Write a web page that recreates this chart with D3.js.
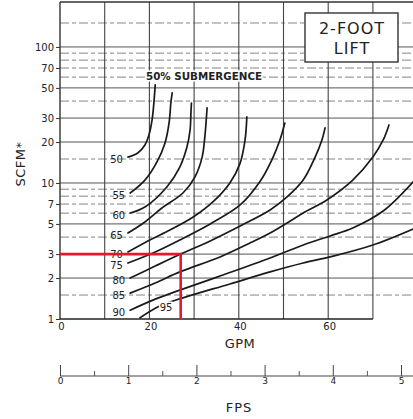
<!DOCTYPE html>
<html>
<head>
<meta charset="utf-8">
<script src="https://cdn.jsdelivr.net/npm/d3@7"></script>
<style>
  html, body { margin: 0; padding: 0; background: #fff; }
  svg { display: block; }
  text { font-family: "DejaVu Sans", sans-serif; fill: #222; }
</style>
</head>
<body>
<svg id="chart" width="413" height="419"></svg>
<script>
// Air-lift pump performance at 2-foot lift:
// air required (SCFM, log scale) against water delivered (GPM), one curve per % submergence.

const submergence = [50, 55, 60, 65, 70, 75, 80, 85, 90, 95];

const gpm50 = [15.2, 17.4, 19.0, 19.9, 20.6, 21.0, 21.3];
const scfm50 = [15.5, 16.6, 19.0, 22.5, 29.1, 38.7, 52.6];

const gpm55 = [15.7, 19.0, 21.7, 23.5, 24.4, 24.8, 25.1];
const scfm55 = [8.44, 10.5, 14.3, 19.7, 27.6, 38.7, 45.9];

const gpm60 = [15.7, 19.0, 23.9, 26.8, 28.4, 29.1, 29.3, 29.4];
const scfm60 = [6.02, 6.66, 9.35, 13.1, 18.4, 24.5, 33.3, 38.7];

const gpm65 = [15.2, 19.0, 22.8, 27.5, 30.2, 31.8, 32.4, 32.9];
const scfm65 = [4.29, 5.17, 6.55, 8.44, 11.1, 15.5, 21.8, 35.6];

const gpm70 = [15.2, 20.1, 24.6, 29.8, 34.2, 38.0, 40.3, 41.4, 41.8];
const scfm70 = [3.11, 3.81, 4.51, 5.62, 7.25, 10.0, 14.0, 20.7, 30.6];

const gpm75 = [15.2, 21.3, 26.8, 33.6, 40.3, 44.7, 47.4, 49.2, 50.3];
const scfm75 = [2.58, 3.11, 3.81, 5.0, 6.89, 10.2, 14.8, 20.7, 27.6];

const gpm80 = [15.7, 21.3, 27.0, 33.6, 40.3, 47.0, 50.8, 54.4, 57.0, 58.6, 59.3];
const scfm80 = [2.0, 2.45, 3.0, 3.75, 4.83, 6.33, 7.89, 10.5, 15.3, 20.7, 25.4];

const gpm85 = [15.7, 21.3, 26.8, 35.8, 42.5, 47.0, 50.8, 54.4, 59.7, 65.5, 70.0, 72.3, 73.6];
const scfm85 = [1.55, 1.84, 2.22, 2.86, 3.62, 4.29, 5.08, 6.02, 7.50, 10.5, 15.5, 20.7, 26.7];

const gpm90 = [15.7, 21.3, 26.8, 35.8, 47.0, 54.4, 60.4, 65.5, 72.3, 79.0];
const scfm90 = [1.16, 1.40, 1.63, 2.07, 2.81, 3.50, 4.08, 4.67, 6.22, 10.2];

const gpm95 = [17.9, 22.4, 27.5, 38.0, 47.0, 54.4, 60.4, 70.0, 79.0];
const scfm95 = [1.02, 1.25, 1.43, 1.81, 2.22, 2.58, 2.86, 3.50, 4.59];

// Axis ticks and grid values
const scfmTicks = [1, 2, 3, 5, 7, 10, 20, 30, 50, 70, 100];
const scfmMajorGrid = [2, 3, 5, 10, 20, 30, 50, 100];
const scfmMinorGrid = [1.5, 4, 6, 7, 8, 9, 15, 40, 60, 70, 80, 90, 150];
const gpmGrid = [10, 20, 30, 40, 50, 60, 70, 80];
const gpmTicks = [0, 20, 40, 60];
const fpsTicks = [0, 1, 2, 3, 4, 5];
const fpsMinorTicks = [0.5, 1.5, 2.5, 3.5, 4.5];

// Worked example: 3 SCFM read across to the water flow
const exampleGpm = 27;
const exampleScfm = 3;

const titleLines = ["2-FOOT", "LIFT"];
const curveNote = "50% SUBMERGENCE";

const W = 413, H = 419;
const plotLeft = 60, plotTop = 2, plotBottom = 319;

const svg = d3.select("#chart");

const x = d3.scaleLinear().domain([0, 80]).range([plotLeft, plotLeft + 80 * 4.47]);
const y = d3.scaleLog().domain([1, 214]).range([plotBottom, plotTop]);
const fx = d3.scaleLinear().domain([0, 5]).range([plotLeft, 401]);

const series = [
  [gpm50, scfm50], [gpm55, scfm55], [gpm60, scfm60], [gpm65, scfm65], [gpm70, scfm70],
  [gpm75, scfm75], [gpm80, scfm80], [gpm85, scfm85], [gpm90, scfm90], [gpm95, scfm95]
].map(([g, s], i) => ({ sub: submergence[i], pts: g.map((v, j) => [v, s[j]]) }));

// ---- grid ----
const grid = svg.append("g");
grid.selectAll("line.hmin").data(scfmMinorGrid).join("line")
  .attr("x1", plotLeft).attr("x2", W)
  .attr("y1", d => y(d)).attr("y2", d => y(d))
  .attr("stroke", "#777").attr("stroke-width", 0.9)
  .attr("stroke-dasharray", "9,3,4,3");
grid.selectAll("line.hmaj").data(scfmMajorGrid).join("line")
  .attr("x1", plotLeft).attr("x2", W)
  .attr("y1", d => y(d)).attr("y2", d => y(d))
  .attr("stroke", "#555").attr("stroke-width", 1);
grid.selectAll("line.v").data(gpmGrid).join("line")
  .attr("x1", d => x(d)).attr("x2", d => x(d))
  .attr("y1", plotTop).attr("y2", plotBottom)
  .attr("stroke", "#444").attr("stroke-width", 1.1);

// frame: top edge, left axis, bottom axis
svg.append("line").attr("x1", plotLeft).attr("x2", W).attr("y1", plotTop).attr("y2", plotTop)
  .attr("stroke", "#333").attr("stroke-width", 1.4);
svg.append("line").attr("x1", plotLeft).attr("x2", plotLeft).attr("y1", plotTop).attr("y2", plotBottom)
  .attr("stroke", "#333").attr("stroke-width", 1.4);
svg.append("line").attr("x1", x(0)).attr("x2", x(70)).attr("y1", plotBottom).attr("y2", plotBottom)
  .attr("stroke", "#222").attr("stroke-width", 1.6);

// ---- title box ----
const box = svg.append("g");
box.append("rect").attr("x", 305).attr("y", 13).attr("width", 93).attr("height", 49)
  .attr("fill", "#fff").attr("stroke", "#333").attr("stroke-width", 1.4);
box.selectAll("text").data(titleLines).join("text")
  .attr("x", 352).attr("y", (d, i) => 34 + i * 20)
  .attr("text-anchor", "middle").attr("font-size", 16).attr("letter-spacing", 1)
  .attr("fill", "#333")
  .text(d => d);

// ---- curves ----
const line = d3.line()
  .x(d => x(d[0])).y(d => y(d[1]))
  .curve(d3.curveCatmullRom.alpha(0.5));

svg.append("g").selectAll("path").data(series).join("path")
  .attr("d", d => line(d.pts))
  .attr("fill", "none").attr("stroke", "#1a1a1a").attr("stroke-width", 1.7)
  .attr("stroke-linecap", "round");

// submergence labels at the start of each curve
svg.append("g").selectAll("text").data(series.filter(d => d.sub !== 95)).join("text")
  .attr("x", d => x(d.pts[0][0]) - 5)
  .attr("y", d => y(d.pts[0][1]) + 6)
  .attr("text-anchor", "end").attr("font-size", 10)
  .text(d => d.sub);

const s95 = series.find(d => d.sub === 95);
svg.append("text")
  .attr("x", x(s95.pts[1][0]) + 6)
  .attr("y", y(s95.pts[1][1]) + 5)
  .attr("text-anchor", "middle").attr("font-size", 10)
  .attr("stroke", "#fff").attr("stroke-width", 3).attr("paint-order", "stroke")
  .text(s95.sub);

svg.append("text")
  .attr("x", 146).attr("y", 80)
  .attr("font-size", 10.5).attr("font-weight", "bold")
  .attr("textLength", 116).attr("lengthAdjust", "spacingAndGlyphs")
  .attr("stroke", "#fff").attr("stroke-width", 3).attr("paint-order", "stroke")
  .text(curveNote);

// ---- axes ----
const yAxis = svg.append("g").attr("transform", `translate(${plotLeft},0)`)
  .call(d3.axisLeft(y).tickValues(scfmTicks).tickFormat(d3.format("d")).tickSize(4).tickPadding(2));
yAxis.select(".domain").remove();
yAxis.selectAll("text").attr("font-size", 10).attr("font-family", "DejaVu Sans").attr("fill", "#222");
yAxis.selectAll("line").attr("stroke", "#333");

const xAxis = svg.append("g").attr("transform", `translate(1,${plotBottom})`)
  .call(d3.axisBottom(x).tickValues(gpmTicks).tickFormat(d3.format("d")).tickSize(0).tickPadding(4));
xAxis.select(".domain").remove();
xAxis.selectAll("text").attr("font-size", 10).attr("font-family", "DejaVu Sans").attr("fill", "#222");

svg.append("text").attr("x", 240).attr("y", 348).attr("text-anchor", "middle")
  .attr("font-size", 13).attr("letter-spacing", 0.5).text("GPM");

svg.append("text")
  .attr("transform", "translate(25,164) rotate(-90)")
  .attr("text-anchor", "middle").attr("font-size", 13).attr("letter-spacing", 0.5)
  .text("SCFM*");

// velocity scale (FPS)
const fpsY = 376;
svg.append("line").attr("x1", plotLeft).attr("x2", W).attr("y1", fpsY).attr("y2", fpsY)
  .attr("stroke", "#444").attr("stroke-width", 1.1);
const fAxis = svg.append("g").attr("transform", `translate(0,${fpsY})`)
  .call(d3.axisBottom(fx).tickValues(fpsTicks).tickFormat(d3.format("d"))
    .tickSizeInner(-11).tickSizeOuter(0).tickPadding(2));
fAxis.select(".domain").remove();
fAxis.selectAll("line").attr("stroke", "#444");
fAxis.selectAll("text").attr("font-size", 9).attr("font-family", "DejaVu Sans").attr("fill", "#333");
const fMinor = svg.append("g").attr("transform", `translate(0,${fpsY})`)
  .call(d3.axisBottom(fx).tickValues(fpsMinorTicks).tickFormat("")
    .tickSizeInner(-5).tickSizeOuter(0));
fMinor.select(".domain").remove();
fMinor.selectAll("line").attr("stroke", "#555");

svg.append("text").attr("x", 239).attr("y", 412).attr("text-anchor", "middle")
  .attr("font-size", 13).attr("letter-spacing", 1).text("FPS");

// ---- worked example in red ----
svg.append("path")
  .attr("d", `M${x(0)},${y(exampleScfm)}H${x(exampleGpm)}V${plotBottom}`)
  .attr("fill", "none").attr("stroke", "#e3182d").attr("stroke-width", 2.6);
</script>
</body>
</html>
